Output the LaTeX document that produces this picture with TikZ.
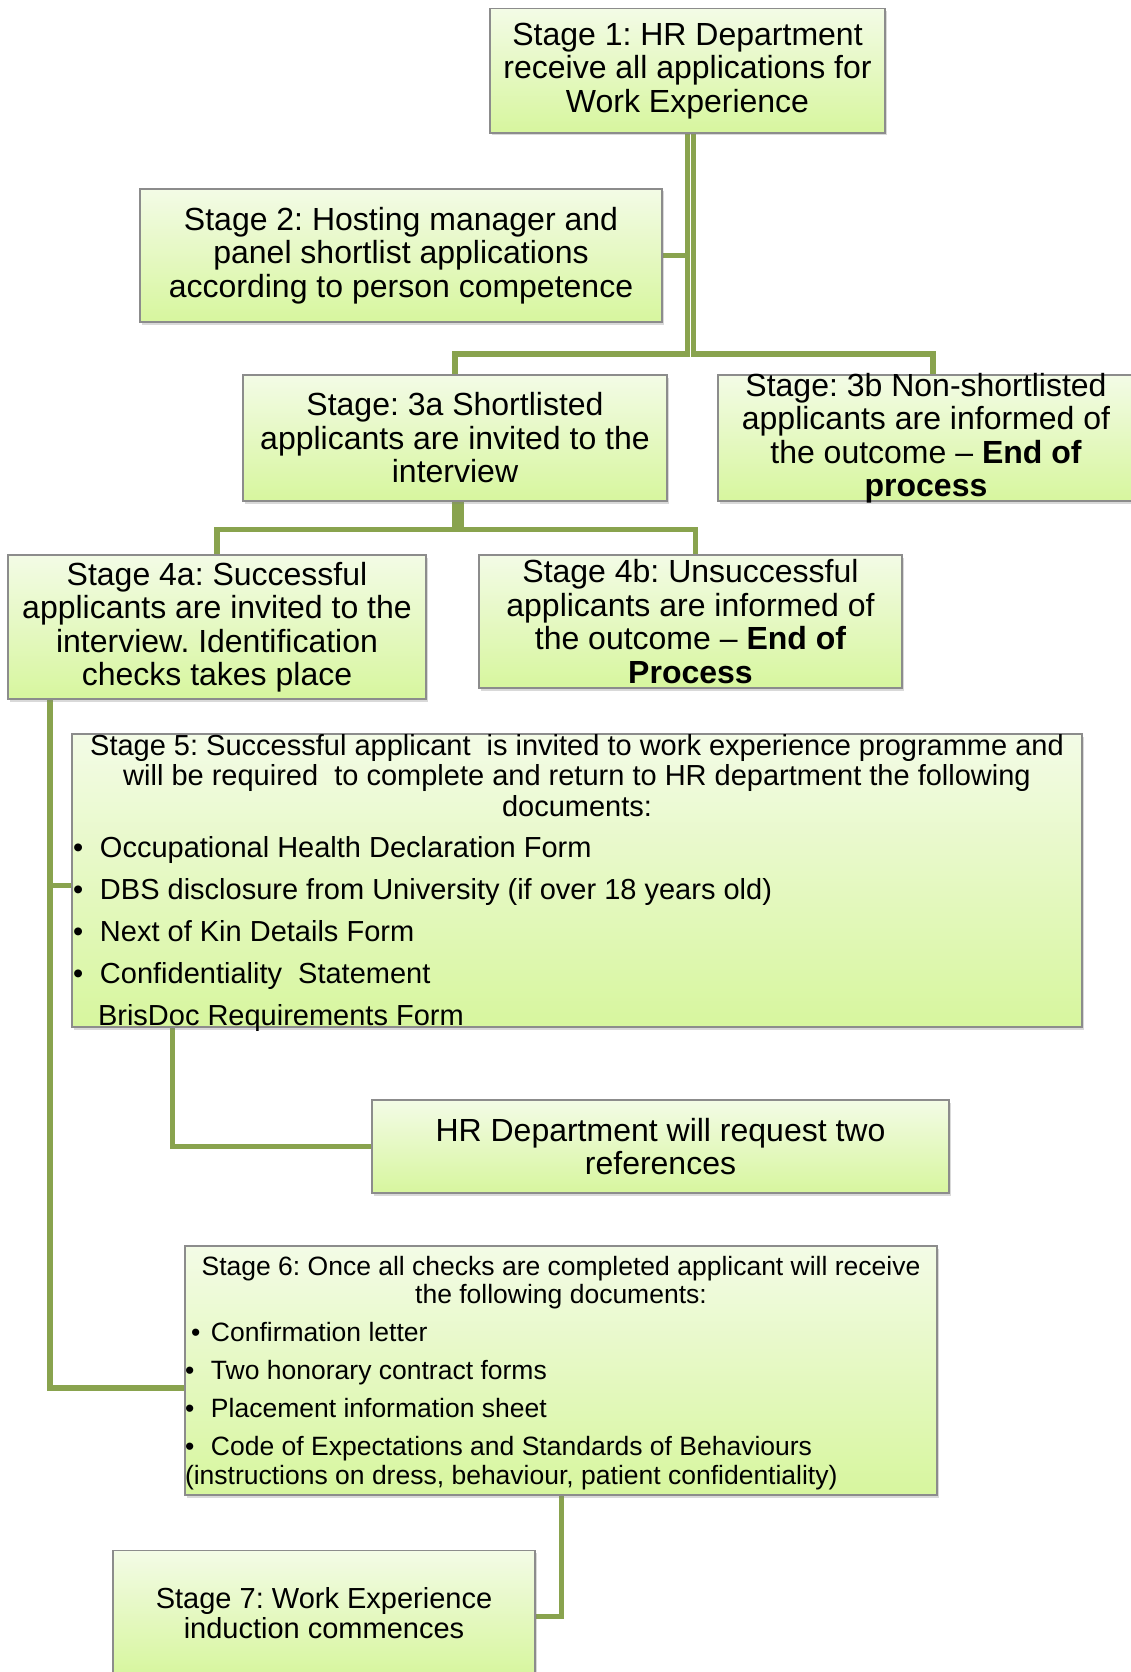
\documentclass[tikz,border=0pt]{standalone}
\usepackage{fontspec}
\setmainfont{Liberation Sans}
\usepackage{tikz}
\usetikzlibrary{positioning,shadows,backgrounds}
\frenchspacing

\definecolor{boxtop}{RGB}{243,251,230}
\definecolor{boxbottom}{RGB}{215,246,158}
\definecolor{boxline}{RGB}{140,140,140}
\definecolor{linkgreen}{RGB}{137,163,78}

\begin{document}
\begin{tikzpicture}[x=1pt, y=1pt,
    stagebox/.style={draw=boxline, line width=1.1pt, inner sep=0pt, top color=boxtop, bottom color=boxbottom,
        drop shadow={shadow xshift=1.5pt, shadow yshift=-2.5pt, opacity=0.3}},
    bigtext/.style={font=\fontsize{32}{33.5}\selectfont},
    link/.style={draw=linkgreen, line width=5.5pt}]
    \useasboundingbox (0,0) rectangle (1130,-1672);

    \node[stagebox, bigtext] (s1) at (687.5,-70.75) {\parbox[c][124.5pt][c]{395pt}{\centering Stage 1: HR Department\\ receive all applications for\\ Work Experience}};

    \node[stagebox, bigtext] (s2) at (401,-255.5) {\parbox[c][133pt][c]{522pt}{\centering Stage 2: Hosting manager and\\ panel shortlist applications\\ according to person competence}};

    \node[stagebox, bigtext] (s3a) at (455,-438) {\parbox[c][126pt][c]{424pt}{\centering Stage: 3a Shortlisted\\ applicants are invited to the\\ interview}};

    \node[stagebox, bigtext] (s3b) at (926,-438) {\parbox[c][126pt][c]{416pt}{\centering Stage: 3b Non-shortlisted\\ applicants are informed of\\ the outcome – \textbf{End of}\\ \textbf{process}}};

    \node[stagebox, bigtext] (s4a) at (217,-627) {\parbox[c][144pt][c]{418pt}{\centering Stage 4a: Successful\\ applicants are invited to the\\ interview. Identification\\ checks takes place}};

    \node[stagebox, bigtext] (s4b) at (690.5,-621.5) {\parbox[c][133pt][c]{423pt}{\centering Stage 4b: Unsuccessful\\ applicants are informed of\\ the outcome – \textbf{End of}\\ \textbf{Process}}};

    \node[stagebox, font=\fontsize{29}{30.5}\selectfont] (s5) at (577,-880.5) {\parbox[c][293pt][t]{1010pt}{\centering Stage 5: Successful applicant\ \ is invited to work experience programme and\\ will be required\ \ to complete and return to HR department the following\\ documents:\par\vspace{10.5pt}\raggedright
        \hspace*{1pt}\makebox[27pt][l]{\textbullet}Occupational Health Declaration Form\\[11.5pt]
        \hspace*{1pt}\makebox[27pt][l]{\textbullet}DBS disclosure from University (if over 18 years old)\\[11.5pt]
        \hspace*{1pt}\makebox[27pt][l]{\textbullet}Next of Kin Details Form\\[11.5pt]
        \hspace*{1pt}\makebox[27pt][l]{\textbullet}Confidentiality\ \ Statement\\[11.5pt]
        \hspace*{26pt}BrisDoc Requirements Form}};

    \node[stagebox, bigtext] (sref) at (660.5,-1146.5) {\parbox[c][93pt][c]{577pt}{\centering HR Department will request two\\ references}};

    \node[stagebox, font=\fontsize{26.5}{28.5}\selectfont] (s6) at (561,-1370.5) {\parbox[c][249pt][t]{752pt}{\vspace*{10pt}\centering Stage 6: Once all checks are completed applicant will receive\\ the following documents:\par\vspace{9.5pt}\raggedright
        \hspace*{6pt}\makebox[20pt][l]{\textbullet}Confirmation letter\\[9.5pt]
        \makebox[26pt][l]{\textbullet}Two honorary contract forms\\[9.5pt]
        \makebox[26pt][l]{\textbullet}Placement information sheet\\[9.5pt]
        \makebox[26pt][l]{\textbullet}Code of Expectations and Standards of Behaviours\\
        (instructions on dress, behaviour, patient confidentiality)}};

    \node[stagebox, font=\fontsize{29}{30}\selectfont] (s7) at (324,-1613) {\parbox[c][125pt][c]{422pt}{\centering Stage 7: Work Experience\\ induction commences}};

    % connectors
    \coordinate (bar3) at (0,-354);
    \coordinate (bar4) at (0,-529.5);
    \coordinate (spine) at (50,0);
    \begin{scope}[on background layer]
        \draw[link] (s1.south) |- (s3a.north |- bar3) -- (s3a.north);
        \draw[link] ([xshift=6pt]s1.south) |- ([xshift=7pt]s3b.north |- bar3) -- ([xshift=7pt]s3b.north);
        \draw[link] (s2.east) -- (s2.east -| s1.south);
        \draw[link] (s3a.south) |- (s4a.north |- bar4) -- (s4a.north);
        \draw[link] ([xshift=6pt]s3a.south) |- ([xshift=5pt]s4b.north |- bar4) -- ([xshift=5pt]s4b.north);
        \draw[link] (s4a.south -| spine) |- ([yshift=-17.5pt]s6.west);
        \draw[link] ([yshift=-5pt]s5.west) -- ([yshift=-5pt]s5.west -| spine);
        \draw[link] ([xshift=101pt]s5.south west) |- (sref.west);
        \draw[link] ([xshift=0.5pt]s6.south) |- ([yshift=-3.5pt]s7.east);
    \end{scope}
\end{tikzpicture}
\end{document}
